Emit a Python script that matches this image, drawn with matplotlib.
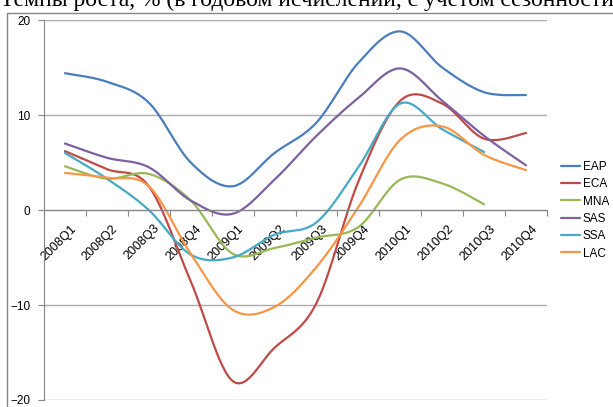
import matplotlib
matplotlib.use("Agg")
import matplotlib.pyplot as plt
import matplotlib.transforms as mtransforms
from matplotlib.patches import Rectangle
import numpy as np

plt.rcParams['font.family'] = ['Liberation Sans', 'DejaVu Sans']

quarters = ["2008Q1", "2008Q2", "2008Q3", "2008Q4",
            "2009Q1", "2009Q2", "2009Q3", "2009Q4",
            "2010Q1", "2010Q2", "2010Q3", "2010Q4"]

eap = [14.4, 13.5, 11.3, 5.0, 2.5, 6.0, 9.2, 15.5, 18.8, 15.0, 12.4, 12.1]
eca = [6.2, 4.3, 2.5, -7.5, -18.0, -14.5, -9.8, 3.0, 11.5, 11.2, 7.5, 8.1]
mna = [4.6, 3.3, 3.8, 1.0, -4.6, -4.0, -2.9, -1.8, 3.2, 2.8, 0.6, None]
sas = [7.0, 5.5, 4.5, 1.0, -0.4, 3.2, 7.8, 11.8, 14.9, 11.5, 7.8, 4.7]
ssa = [6.0, 3.3, 0.0, -4.7, -5.0, -2.6, -1.3, 4.5, 11.2, 8.5, 6.1, None]
lac = [3.9, 3.4, 2.5, -4.6, -10.5, -10.2, -6.0, 0.3, 7.4, 8.8, 5.8, 4.2]

series = [("EAP", eap, "#4A7EBB"), ("ECA", eca, "#BE4B48"), ("MNA", mna, "#98B954"),
          ("SAS", sas, "#7D60A0"), ("SSA", ssa, "#46AAC5"), ("LAC", lac, "#F79646")]


def smooth(xs, ys, n=30):
    # excel-like smoothed line (bezier through the points)
    p = np.column_stack([xs, ys])
    out = [p[0]]
    for i in range(len(p) - 1):
        p0 = p[i - 1] if i > 0 else p[i]
        p1, p2 = p[i], p[i + 1]
        p3 = p[i + 2] if i + 2 < len(p) else p[i + 1]
        c1 = p1 + (p2 - p0) / 6.0
        c2 = p2 - (p3 - p1) / 6.0
        t = np.linspace(0, 1, n)[1:, None]
        seg = ((1 - t) ** 3) * p1 + 3 * ((1 - t) ** 2) * t * c1 + 3 * (1 - t) * t ** 2 * c2 + t ** 3 * p2
        out.extend(seg)
    out = np.array(out)
    return out[:, 0], out[:, 1]


fig = plt.figure(figsize=(6.13, 4.07), dpi=100)
ax = fig.add_axes([44 / 613, 7 / 407, 503 / 613, 380 / 407])

# chart frame
fig.patches.append(Rectangle((7 / 613, -0.1), 1.2, 1 - 13 / 407 + 0.1, transform=fig.transFigure,
                             fill=False, edgecolor="#868686", linewidth=1.0))
fig.text(0.0, 1 - 6 / 407, "Темпы роста, % (в годовом исчислении, с учетом сезонности)",
         family=['Liberation Serif', 'DejaVu Serif'], fontsize=17, va='baseline', ha='left')

for name, vals, col in series:
    xs = [i + 0.5 for i, v in enumerate(vals) if v is not None]
    ys = [v for v in vals if v is not None]
    sx, sy = smooth(xs, ys)
    ax.plot(sx, sy, color=col, lw=1.6, label=name, solid_capstyle='round')

ax.set_xlim(0, 12)
ax.set_ylim(-20, 20)
ax.set_yticks([-20, -10, 0, 10, 20])
ax.yaxis.grid(True, color="#ABABAB", lw=1.0)
ax.set_axisbelow(True)
for s in ["top", "right"]:
    ax.spines[s].set_visible(False)
ax.spines["bottom"].set_position(("data", 0))
ax.spines["bottom"].set_color("#868686")
ax.spines["left"].set_color("#868686")

ax.set_xticks(range(13))
ax.set_xticklabels([])
ax.set_xticks([i + 0.5 for i in range(12)], minor=True)
ax.set_xticklabels(quarters, minor=True, rotation=45, ha='right', va='top',
                   rotation_mode='anchor', fontsize=9)
ax.tick_params(axis='x', which='major', direction='out', length=4, color="#868686")
ax.tick_params(axis='x', which='minor', length=0, pad=9)
ax.tick_params(axis='y', direction='out', length=4, color="#868686", labelsize=8.5, pad=6)
off = mtransforms.ScaledTranslation(5 / 100, 0, fig.dpi_scale_trans)
for lab in ax.get_xticklabels(minor=True):
    lab.set_transform(lab.get_transform() + off)

ax.legend(loc='upper left', bbox_to_anchor=(561 / 613, 1 - 161 / 407), bbox_transform=fig.transFigure,
          frameon=False, fontsize=8.5, handlelength=1.6, handletextpad=0.25, labelspacing=0.45,
          borderaxespad=0, borderpad=0)

fig.savefig("out.png", dpi=100)
